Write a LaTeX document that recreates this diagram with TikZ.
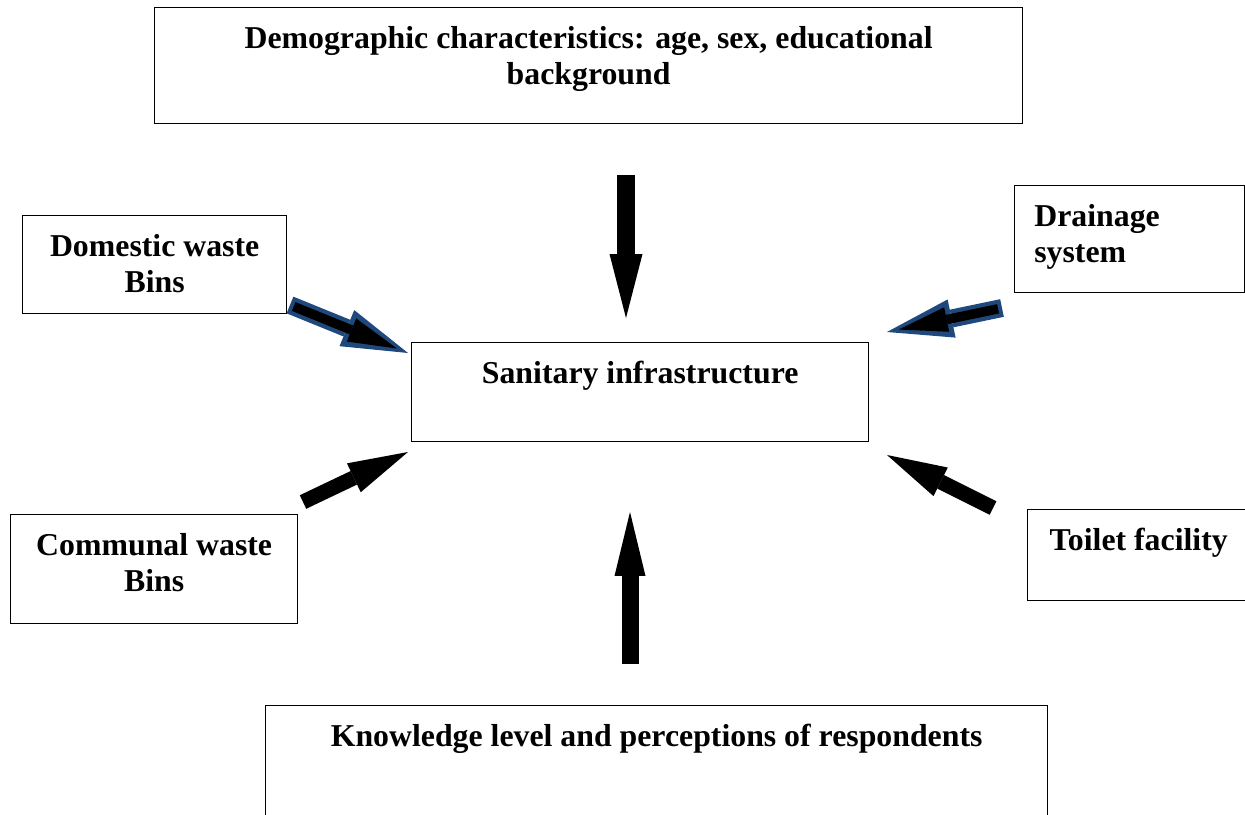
\documentclass[tikz,border=0pt]{standalone}
\usepackage{fontspec}
\setmainfont{Liberation Serif}
\usetikzlibrary{arrows.meta}
\definecolor{arrowblue}{RGB}{31,73,125}

\begin{document}
\begin{tikzpicture}[x=0.02cm,y=-0.02cm,
    box/.style={draw,line width=0.8pt,anchor=north west,inner sep=0pt},
    lbl/.style={font=\fontsize{18.1pt}{20.4pt}\selectfont\bfseries,align=center,inner sep=0pt,anchor=north,yshift=-0.38cm},
    fat/.style={line width=0.3cm,-{Triangle[length=1.2cm,width=0.64cm,line width=0pt]}},
    fatblue/.style={arrowblue,line width=0.36cm,-{Triangle[length=1.32cm,width=0.78cm,line width=0pt]}},
    fatcore/.style={black,line width=0.19cm,shorten <=0.08cm,shorten >=0.24cm,-{Triangle[length=0.98cm,width=0.5cm,line width=0pt]}}]
  \clip (0,0) rectangle (1245,815);
  % boxes
  \node[box,minimum width=17.36cm,minimum height=2.32cm,
        label={[lbl]north:{Demographic characteristics: age, sex, educational\\background}}] (demo) at (154,7) {};
  \node[box,minimum width=5.28cm,minimum height=1.96cm,
        label={[lbl]north:{Domestic waste\\Bins}}] (dom) at (22,215) {};
  \node[box,minimum width=9.14cm,minimum height=1.98cm,
        label={[lbl]north:{Sanitary infrastructure}}] (san) at (411,342) {};
  \node[box,minimum width=4.6cm,minimum height=2.14cm,
        label={[lbl,anchor=north west,align=left,xshift=0.4cm]north west:{Drainage\\system}}] (drain) at (1014,185) {};
  \node[box,minimum width=5.74cm,minimum height=2.18cm,
        label={[lbl]north:{Communal waste\\Bins}}] (comm) at (10,514) {};
  \node[box,minimum width=4.44cm,minimum height=1.82cm,
        label={[lbl]north:{Toilet facility}}] (toil) at (1027,509) {};
  \node[box,minimum width=15.64cm,minimum height=2.6cm,
        label={[lbl]north:{Knowledge level and perceptions of respondents}}] (know) at (265,705) {};
  % arrow ends
  \coordinate (demo tail) at (626,175);
  \coordinate (demo tip) at (626,318);
  \coordinate (know tail) at (630,664);
  \coordinate (know tip) at (630,512);
  \coordinate (dom tail) at (290,305);
  \coordinate (dom tip) at (408,353);
  \coordinate (drain tail) at (1002,308);
  \coordinate (drain tip) at (887,332);
  \coordinate (comm tail) at (303,502);
  \coordinate (comm tip) at (408,452);
  \coordinate (toil tail) at (993,508);
  \coordinate (toil tip) at (887,455);
  % arrows
  \draw[fat,line width=0.36cm,-{Triangle[length=1.28cm,width=0.66cm,line width=0pt]}] (demo tail) -- (demo tip);
  \draw[fat,line width=0.34cm,-{Triangle[length=1.28cm,width=0.62cm,line width=0pt]}] (know tail) -- (know tip);
  \draw[fat] (comm tail) -- (comm tip);
  \draw[fat] (toil tail) -- (toil tip);
  \draw[fatblue] (dom tail) -- (dom tip);
  \draw[fatcore] (dom tail) -- (dom tip);
  \draw[fatblue] (drain tail) -- (drain tip);
  \draw[fatcore] (drain tail) -- (drain tip);
\end{tikzpicture}
\end{document}
